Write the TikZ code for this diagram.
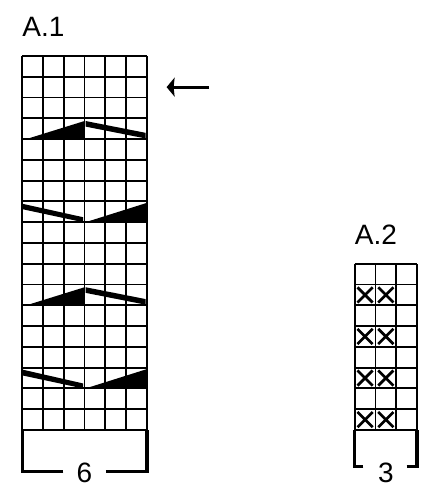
\documentclass[tikz,border=0pt]{standalone}
\usepackage{fontspec}
\setmainfont{Liberation Sans}
\usetikzlibrary{arrows.meta,shapes.misc}

\begin{document}
\begin{tikzpicture}[x=20.78pt, y=20.78pt,
    font=\fontsize{28}{32}\selectfont,
    chart/.style={line width=1.9pt, step=1},
    wedge/.style={fill=black},
    bracket/.style={line width=3.3pt},
    pointer/.style={line width=3.2pt, -{Stealth[length=8pt, width=19pt, inset=1pt]}},
    xmark/.style={cross out, draw, line width=2.7pt, minimum size=12.5pt, inner sep=0pt},
    chartname/.style={inner sep=0pt, anchor=base west},
    numtext/.style={inner sep=0pt}]
    \useasboundingbox (-1.068,-3.369) rectangle (20.49,20.693);
    % chart A.1
    \node (t1) [chartname] at (0,18.93) {A.1};
    \draw[chart] (0,0) grid (6,18);
    \fill[wedge] (0.2,14) -- (2.97,14.86) -- (2.97,14) -- cycle;
    \fill[wedge] (3.05,14.87) -- (5.94,14.3) -- (5.94,14.03) -- (3.05,14.6) -- cycle;
    \fill[wedge] (0.04,10.88) -- (2.93,10.24) -- (2.93,10) -- (0.04,10.62) -- cycle;
    \fill[wedge] (3.05,10) -- (5.97,10.92) -- (5.97,10) -- cycle;
    \fill[wedge] (0.2,6) -- (2.97,6.86) -- (2.97,6) -- cycle;
    \fill[wedge] (3.05,6.87) -- (5.94,6.3) -- (5.94,6.03) -- (3.05,6.6) -- cycle;
    \fill[wedge] (0.04,2.9) -- (2.93,2.24) -- (2.93,2) -- (0.04,2.62) -- cycle;
    \fill[wedge] (3.05,2) -- (5.97,2.92) -- (5.97,2) -- cycle;
    \draw[pointer] (9,16.5) -- (6.95,16.5);
    \node (w1) [numtext] at (3,-2.06) {6};
    \draw[bracket] (1.98,-2) -| (0,0);
    \draw[bracket] (4.03,-2) -| (6,0);
    % chart A.2
    \node (t2) [chartname] at (16,8.94) {A.2};
    \draw[chart] (16,0) grid (19,8);
    \node (x1) [xmark] at (16.5,6.5) {};
    \node (x2) [xmark] at (17.5,6.5) {};
    \node (x3) [xmark] at (16.5,4.5) {};
    \node (x4) [xmark] at (17.5,4.5) {};
    \node (x5) [xmark] at (16.5,2.5) {};
    \node (x6) [xmark] at (17.5,2.5) {};
    \node (x7) [xmark] at (16.5,0.5) {};
    \node (x8) [xmark] at (17.5,0.5) {};
    \node (w2) [numtext] at (17.5,-2.07) {3};
    \draw[bracket] (16.42,-1.77) -| (16,0);
    \draw[bracket] (18.5,-1.77) -| (19,0);
\end{tikzpicture}
\end{document}
